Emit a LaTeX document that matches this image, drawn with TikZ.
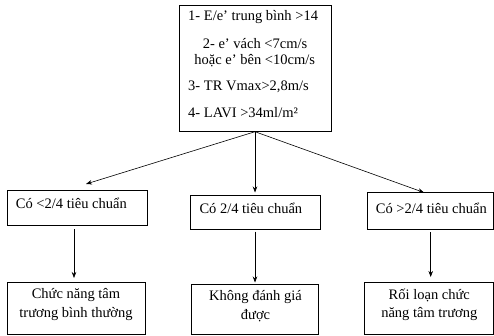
\documentclass[tikz,border=0pt]{standalone}
\usepackage{fontspec}
\setmainfont{Liberation Serif}
\usetikzlibrary{arrows.meta}
\begin{document}
\begin{tikzpicture}[x=1pt,y=-1pt,
  boxline/.style={draw=black,line width=0.6pt},
  txt/.style={font=\fontsize{14.5}{18.3}\selectfont,inner sep=0pt},
  arr/.style={draw=black,line width=0.6pt,-{Stealth[length=6pt,width=4.5pt]}}]
\useasboundingbox (0,0) rectangle (494,335);
% top box
\draw[boxline] (179.3,5) rectangle (331.7,131.7);
\coordinate (topb) at (255,131.7);
\node[txt,anchor=west] (t1) at (188,17) {1- E/e’ trung bình >14};
\node[txt] (t2) at (255,43.5) {2- e’ vách <7cm/s};
\node[txt] (t3) at (254.7,61) {hoặc e’ bên <10cm/s};
\node[txt,anchor=west] (t4) at (188,86.5) {3- TR Vmax>2,8m/s};
\node[txt,anchor=west] (t5) at (188,113) {4- LAVI >34ml/m²};
% middle row boxes
\draw[boxline] (7.3,190.7) rectangle (147,225);
\draw[boxline] (190.3,195.7) rectangle (320.7,229.3);
\draw[boxline] (367.3,192.3) rectangle (493.6,229.3);
\node[txt,anchor=west] (m1) at (15.7,203.5) {Có <2/4 tiêu chuẩn};
\node[txt,anchor=west] (m2) at (199.3,208.5) {Có 2/4 tiêu chuẩn};
\node[txt,anchor=west] (m3) at (375.7,208.5) {Có >2/4 tiêu chuẩn};
\coordinate (a1) at (86,184);
\coordinate (a2) at (255,192.5);
\coordinate (a3) at (424,192.5);
% bottom boxes
\draw[boxline] (7.3,282.7) rectangle (145.7,334.3);
\draw[boxline] (191.7,284.3) rectangle (318.3,334.3);
\draw[boxline] (364,282.7) rectangle (493.6,334.3);
\node[txt,align=center] (b1) at (76,304.5) {Chức năng tâm\\trương bình thường};
\node[txt,align=center] (b2) at (255.5,306) {Không đánh giá\\được};
\node[txt,align=center] (b3) at (429.3,304.5) {Rối loạn chức\\năng tâm trương};
% arrows
\draw[arr] (topb) -- (a1);
\draw[arr] (topb) -- (a2);
\draw[arr] (topb) -- (a3);
\coordinate (v1s) at (74,229.3);
\coordinate (v1e) at (74,278);
\coordinate (v2s) at (255,231.7);
\coordinate (v2e) at (255,282.5);
\coordinate (v3s) at (430.7,232.3);
\coordinate (v3e) at (430.7,277);
\draw[arr] (v1s) -- (v1e);
\draw[arr] (v2s) -- (v2e);
\draw[arr] (v3s) -- (v3e);
\end{tikzpicture}
\end{document}
